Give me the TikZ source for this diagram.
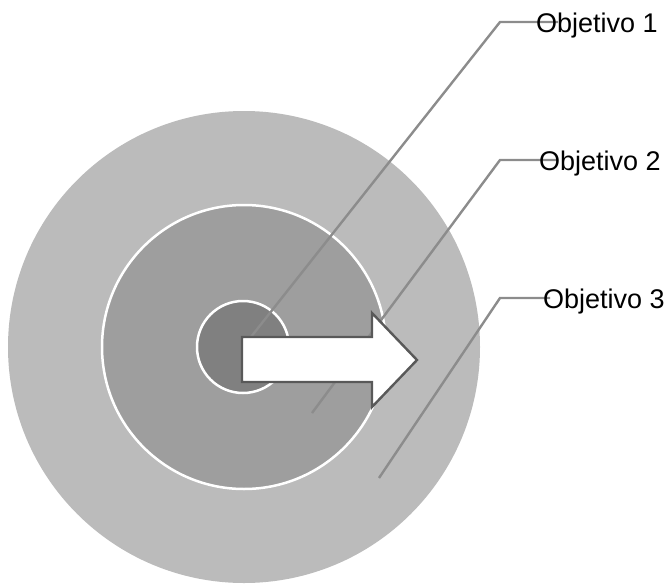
\documentclass[tikz,border=0pt]{standalone}
\usepackage{fontspec}
\setmainfont{Liberation Sans}
\definecolor{outergray}{HTML}{BBBBBB}
\definecolor{midgray}{HTML}{9E9E9E}
\definecolor{innergray}{HTML}{808080}
\definecolor{leadgray}{HTML}{8C8C8C}
\definecolor{arrowgray}{HTML}{595959}
\tikzset{
  ring/.style={draw=white, line width=2.5pt},
  leader/.style={leadgray, line width=2.4pt},
  objlabel/.style={anchor=base west, inner sep=0pt, font=\fontsize{27}{30}\selectfont},
  bigarrow/.style={draw=arrowgray, fill=white, line width=2.4pt, line join=miter}
}

\begin{document}
\begin{tikzpicture}[x=1pt,y=-1pt]
    \useasboundingbox (0,0) rectangle (670,584);
    %
    \coordinate (ctr) at (244,347);
    \fill[outergray] (ctr) circle (236pt);
    \draw[ring, fill=midgray] (ctr) circle (142pt);
    \draw[ring, fill=innergray] (243,347) circle (46pt);
    %
    \coordinate (s1) at (243,347);
    \coordinate (k1) at (500,22);
    \coordinate (e1) at (558,22);
    \coordinate (s2) at (312,413);
    \coordinate (k2) at (500,160);
    \coordinate (e2) at (558,160);
    \coordinate (s3) at (379,478);
    \coordinate (k3) at (500,298);
    \coordinate (e3) at (550,298);
    \draw[leader] (s1) -- (k1) -- (e1);
    \draw[leader] (s2) -- (k2) -- (e2);
    \draw[leader] (s3) -- (k3) -- (e3);
    %
    \draw[bigarrow] (242,337) -- (372,337) -- (372,313) -- (417,360) -- (372,407) -- (372,382) -- (242,382) -- cycle;
    %
    \node[objlabel] (o1) at (536,32) {Objetivo 1};
    \node[objlabel] (o2) at (539,170) {Objetivo 2};
    \node[objlabel] (o3) at (543,308) {Objetivo 3};
\end{tikzpicture}
\end{document}
